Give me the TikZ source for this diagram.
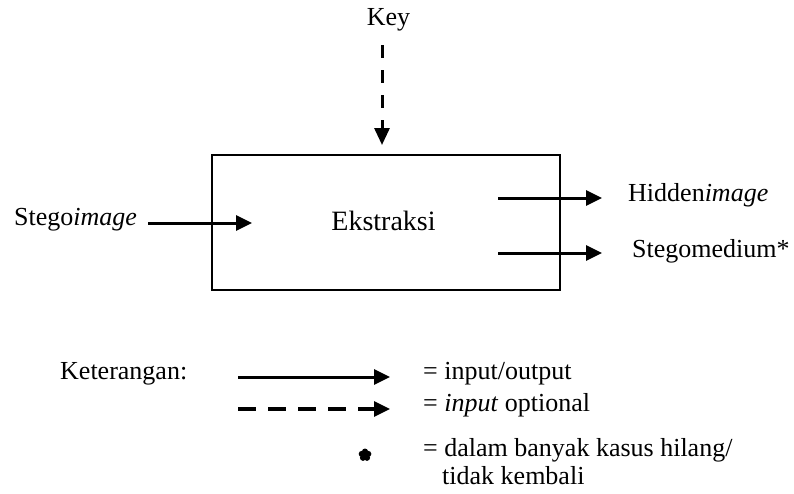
\documentclass[tikz,border=0pt]{standalone}
\usepackage{fontspec}
\setmainfont{Liberation Serif}
\usetikzlibrary{arrows.meta}
\begin{document}
\begin{tikzpicture}[x=1pt,y=-1pt,
  lbl/.style={inner sep=0pt,font=\fontsize{26}{30}\selectfont},
  solidarrow/.style={line width=3pt,-{Triangle[length=16pt,width=15pt]}},
  dasharrow/.style={line width=3.2pt,dash pattern=on 18pt off 12pt,-{Triangle[length=16pt,width=15pt]}},
  keyarrow/.style={line width=3pt,dash pattern=on 13pt off 12pt,-{Triangle[length=17pt,width=15pt]}},
  boxstyle/.style={draw,line width=2.5pt,minimum width=348pt,minimum height=135pt,inner sep=0pt},
  petal/.style={fill=black,draw=none}]
\useasboundingbox (0,0) rectangle (794,493);
% box
\node[boxstyle] (box) at (386,222.5) {};
\node[inner sep=0pt,font=\fontsize{28}{32}\selectfont,anchor=mid] (ekstraksi) at (383.5,228.5) {Ekstraksi};
% key
\node[lbl,anchor=mid] (key) at (388.5,23) {Key};
\coordinate (keyA) at (382,45);
\coordinate (keyB) at (382,145);
\draw[keyarrow] (keyA) -- (keyB);
% input
\node[lbl,anchor=mid west] (stego) at (14,223) {Stego\textit{image}};
\coordinate (inA) at (148,223);
\coordinate (inB) at (252,223);
\draw[solidarrow] (inA) -- (inB);
% outputs
\node[lbl,anchor=mid west] (hidden) at (628,199) {Hidden\textit{image}};
\node[lbl,anchor=mid west] (stegomed) at (632,255) {Stegomedium*};
\coordinate (o1A) at (498,198);
\coordinate (o1B) at (602,198);
\coordinate (o2A) at (498,253);
\coordinate (o2B) at (602,253);
\draw[solidarrow] (o1A) -- (o1B);
\draw[solidarrow] (o2A) -- (o2B);
% legend
\node[lbl,anchor=mid west] (ket) at (60,377) {Keterangan:};
\coordinate (l1A) at (238,377);
\coordinate (l1B) at (390,377);
\draw[solidarrow] (l1A) -- (l1B);
\coordinate (l2A) at (238,409);
\coordinate (l2B) at (390,409);
\draw[dasharrow] (l2A) -- (l2B);
\node[lbl,anchor=mid west] (io) at (423,377) {= input/output};
\node[lbl,anchor=mid west] (opt) at (423,409) {= \textit{input} optional};
\coordinate (star) at (365,455);
\foreach \a in {-90,-18,54,126,198}
  \fill[petal] (star) ++(\a:3.4) circle (3.1);
\fill[petal] (star) circle (3.2);
\node[lbl,anchor=mid west] (dalam) at (423,454) {= dalam banyak kasus hilang/};
\node[lbl,anchor=mid west] (tidak) at (442,482) {tidak kembali};
\end{tikzpicture}
\end{document}
